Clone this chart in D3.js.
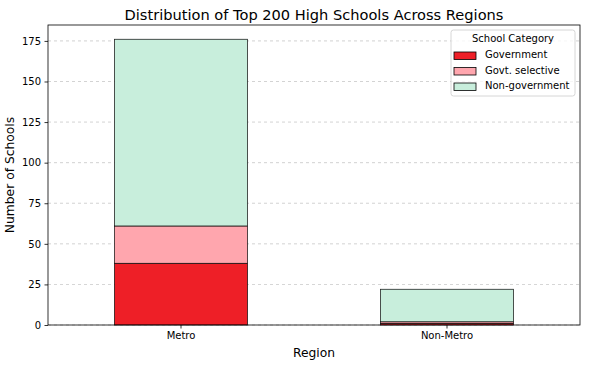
<!DOCTYPE html>
<html><head><meta charset="utf-8">
<script src="https://cdn.jsdelivr.net/npm/d3@7"></script>
<style>body{margin:0;background:#fff}svg{font-family:"DejaVu Sans",sans-serif}</style>
</head><body><svg id="c" width="594" height="366"></svg>
<script>
const regions = ["Metro", "Non-Metro"];
const seriesNames = ["Government", "Govt. selective", "Non-government"];
const government = [38, 1];
const govtSelective = [23, 1];
const nonGovernment = [115, 20];
const yTicks = [0, 25, 50, 75, 100, 125, 150, 175];
const colors = ["#EE1F27", "#FFA6AE", "#C8EEDC"];

const svg = d3.select("#c");
const m = {l: 48, r: 14, t: 25, b: 41};
const W = 594, H = 366;
const x = d3.scaleBand().domain(regions).range([m.l, W - m.r]).paddingInner(0.5).paddingOuter(0.25);
const y = d3.scaleLinear().domain([0, 184.8]).range([H - m.b, m.t]);

const data = regions.map((r, i) => ({region: r, "Government": government[i], "Govt. selective": govtSelective[i], "Non-government": nonGovernment[i]}));
const stack = d3.stack().keys(seriesNames)(data);

// grid
svg.append("g").selectAll("line").data(yTicks).join("line")
  .attr("x1", m.l).attr("x2", W - m.r)
  .attr("y1", d => y(d)).attr("y2", d => y(d))
  .attr("stroke", "#b0b0b0").attr("stroke-width", 0.8).attr("stroke-dasharray", "3,3").attr("opacity", 0.7);

// bars
stack.forEach((s, k) => {
  svg.append("g").selectAll("rect").data(s).join("rect")
    .attr("x", d => x(d.data.region)).attr("width", x.bandwidth())
    .attr("y", d => y(d[1])).attr("height", d => y(d[0]) - y(d[1]))
    .attr("fill", colors[k]).attr("stroke", "#000").attr("stroke-width", 0.8).attr("stroke-opacity", 0.85);
});

// frame
svg.append("rect").attr("x", m.l).attr("y", m.t).attr("width", W - m.r - m.l).attr("height", H - m.b - m.t)
  .attr("fill", "none").attr("stroke", "#000").attr("stroke-width", 0.8);

// axes
const ya = svg.append("g").attr("transform", `translate(${m.l},0)`)
  .call(d3.axisLeft(y).tickValues(yTicks).tickSize(3.5).tickPadding(3.5));
const xa = svg.append("g").attr("transform", `translate(0,${H - m.b})`)
  .call(d3.axisBottom(x).tickSize(3.5).tickPadding(3.5));
[ya, xa].forEach(a => {
  a.select(".domain").remove();
  a.selectAll("text").attr("font-size", 10).attr("fill", "#000").attr("font-family", "DejaVu Sans");
  a.selectAll("line").attr("stroke", "#000").attr("stroke-width", 0.8);
});

svg.append("text").attr("x", 314).attr("y", 20).attr("text-anchor", "middle")
  .attr("font-size", 14.6).text("Distribution of Top 200 High Schools Across Regions");
svg.append("text").attr("x", 314).attr("y", 357).attr("text-anchor", "middle")
  .attr("font-size", 12.3).text("Region");
svg.append("text").attr("transform", `translate(14,${(m.t + H - m.b) / 2}) rotate(-90)`).attr("text-anchor", "middle")
  .attr("font-size", 12.3).text("Number of Schools");

// legend
const lg = svg.append("g").attr("transform", "translate(451,30)");
lg.append("rect").attr("width", 124).attr("height", 66).attr("rx", 2.5)
  .attr("fill", "#fff").attr("fill-opacity", 0.8).attr("stroke", "#ccc").attr("stroke-width", 0.8);
lg.append("text").attr("x", 62).attr("y", 12).attr("text-anchor", "middle").attr("font-size", 10).text("School Category");
seriesNames.forEach((n, i) => {
  const yy = 28 + i * 15.5;
  lg.append("rect").attr("x", 3).attr("y", yy - 6).attr("width", 22).attr("height", 7.5)
    .attr("fill", colors[i]).attr("stroke", "#000").attr("stroke-width", 0.8);
  lg.append("text").attr("x", 34).attr("y", yy).attr("font-size", 10).text(n);
});
</script></body></html>
